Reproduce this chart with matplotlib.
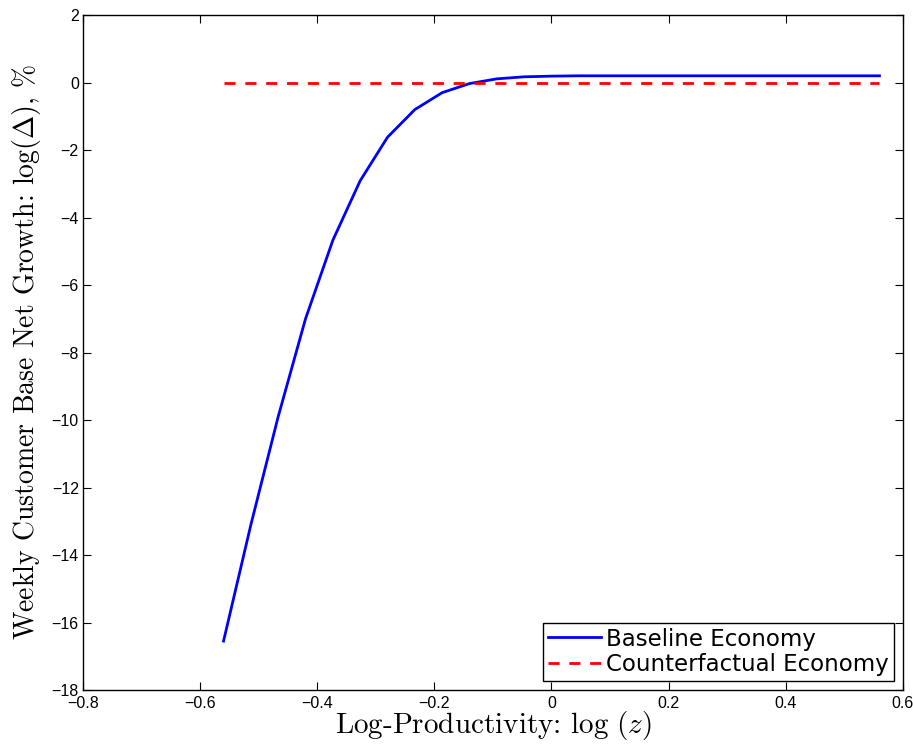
import numpy as np
import matplotlib
matplotlib.use("Agg")
import matplotlib.pyplot as plt

# log-productivity grid
log_z = [-0.56, -0.5133, -0.4667, -0.42, -0.3733, -0.3267, -0.28, -0.2333,
         -0.1867, -0.14, -0.0933, -0.0467, 0.0, 0.0467, 0.0933, 0.14,
         0.1867, 0.2333, 0.28, 0.3267, 0.3733, 0.42, 0.4667, 0.5133, 0.56]

# weekly customer base net growth, %
baseline = [-16.55, -13.1, -9.9, -7.0, -4.67, -2.91, -1.62, -0.80,
            -0.30, -0.03, 0.11, 0.17, 0.19, 0.2, 0.2, 0.2,
            0.2, 0.2, 0.2, 0.2, 0.2, 0.2, 0.2, 0.2, 0.2]
counterfactual = [0.0] * len(log_z)

xticks = [-0.8, -0.6, -0.4, -0.2, 0.0, 0.2, 0.4, 0.6]
xticklabels = ["\u22120.8", "\u22120.6", "\u22120.4", "\u22120.2", "0", "0.2", "0.4", "0.6"]
yticks = [-18, -16, -14, -12, -10, -8, -6, -4, -2, 0, 2]
yticklabels = ["\u221218", "\u221216", "\u221214", "\u221212", "\u221210", "\u22128",
               "\u22126", "\u22124", "\u22122", "0", "2"]

plt.rcParams["mathtext.fontset"] = "cm"
plt.rcParams["font.family"] = ["Liberation Sans", "DejaVu Sans"]

fig = plt.figure(figsize=(9.13, 7.45), dpi=100)
ax = fig.add_axes([0.0909, 0.0738, 0.898, 0.906])

ax.plot(log_z, baseline, color="blue", lw=2.0, label="Baseline Economy")
ax.plot(log_z, counterfactual, color="red", lw=2.0, ls=(0, (4, 3.5)),
        label="Counterfactual Economy")

ax.set_xlim(-0.8, 0.6)
ax.set_ylim(-18, 2)
ax.set_xticks(xticks)
ax.set_xticklabels(xticklabels)
ax.set_yticks(yticks)
ax.set_yticklabels(yticklabels)
ax.tick_params(direction="in", top=True, right=True, length=6, width=0.8,
               labelsize=11.5, pad=3)
ax.tick_params(axis="x", pad=4)
for s in ax.spines.values():
    s.set_linewidth(1.0)

ax.set_xlabel(r"Log-Productivity: $\log\,(z)$", family="cmr10",
              fontsize=21, labelpad=-1)
ax.set_ylabel(r"Weekly Customer Base Net Growth: $\log(\Delta)$, %",
              family="cmr10", fontsize=20, labelpad=6)

leg = ax.legend(loc="lower right", prop={"family": "DejaVu Sans", "size": 16.5},
                fancybox=False, framealpha=1, edgecolor="black",
                borderaxespad=0.4, handlelength=2.3, handletextpad=0.25,
                borderpad=0.2, labelspacing=0.12)
leg.get_frame().set_linewidth(1.0)

fig.savefig("out.png", dpi=100)
